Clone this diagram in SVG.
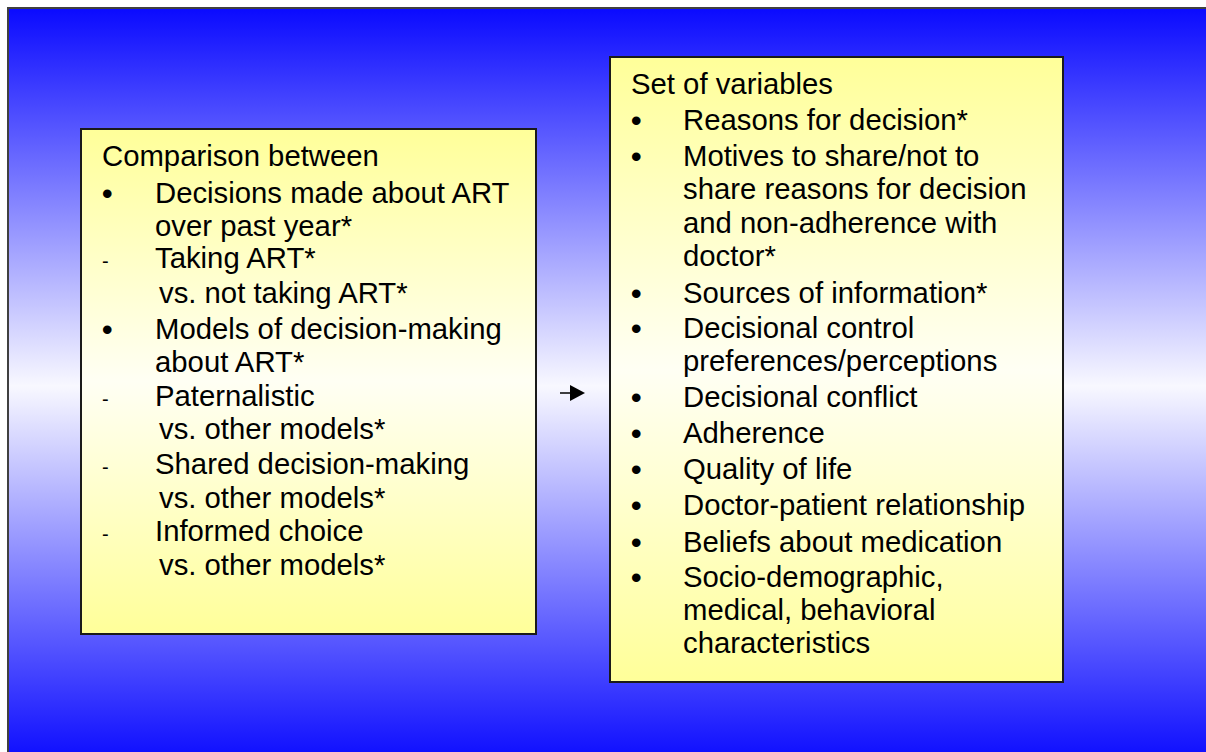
<svg xmlns="http://www.w3.org/2000/svg" width="1206" height="752" viewBox="0 0 1206 752">
  <defs>
    <linearGradient id="bg" x1="0" y1="0" x2="0" y2="1">
      <stop offset="0" stop-color="#0a0aff"/>
      <stop offset="0.5" stop-color="#f8f8ff"/>
      <stop offset="1" stop-color="#0a0aff"/>
    </linearGradient>
    <linearGradient id="box" x1="0" y1="0" x2="0" y2="1">
      <stop offset="0" stop-color="#ffff99"/>
      <stop offset="0.5" stop-color="#fffff4"/>
      <stop offset="1" stop-color="#ffff99"/>
    </linearGradient>
    <marker id="ah" markerWidth="15" markerHeight="16" refX="0" refY="8" orient="auto" markerUnits="userSpaceOnUse">
      <path d="M0,0 L15,8 L0,16 Z" fill="#000"/>
    </marker>
  </defs>
  <style>
    .box { fill: url(#box); stroke: #1a1a1a; stroke-width: 2; }
    .t { font-family: "Liberation Sans", Arial, sans-serif; font-size: 29.3px; fill: #000; }
    .b { font-family: "Liberation Sans", Arial, sans-serif; font-size: 30px; font-weight: bold; fill: #000; }
    .d { font-family: "Liberation Sans", Arial, sans-serif; font-size: 20px; fill: #000; }
  </style>
  <rect x="0" y="0" width="1206" height="752" fill="#fff"/>
  <rect x="8" y="8" width="1210" height="756" fill="url(#bg)" stroke="#404040" stroke-width="2"/>

  <g id="node-comparison">
    <rect class="box" x="81" y="129" width="455" height="505"/>
    <text class="t" x="102" y="166">Comparison between</text>
    <text class="b" x="102" y="204">•</text>
    <text class="t" x="155" y="203">Decisions made about ART</text>
    <text class="t" x="155" y="236">over past year*</text>
    <text class="d" x="102" y="268">-</text>
    <text class="t" x="155" y="268">Taking ART*</text>
    <text class="t" x="159" y="303">vs. not taking ART*</text>
    <text class="b" x="102" y="340">•</text>
    <text class="t" x="155" y="339">Models of decision-making</text>
    <text class="t" x="155" y="372">about ART*</text>
    <text class="d" x="102" y="406">-</text>
    <text class="t" x="155" y="406">Paternalistic</text>
    <text class="t" x="159" y="439">vs. other models*</text>
    <text class="d" x="102" y="474">-</text>
    <text class="t" x="155" y="474">Shared decision-making</text>
    <text class="t" x="159" y="508">vs. other models*</text>
    <text class="d" x="102" y="541">-</text>
    <text class="t" x="155" y="541">Informed choice</text>
    <text class="t" x="159" y="575">vs. other models*</text>
  </g>

  <g id="connectors">
    <line x1="560" y1="393" x2="570" y2="393" stroke="#000" stroke-width="1.5" marker-end="url(#ah)"/>
  </g>

  <g id="node-variables">
    <rect class="box" x="610" y="57" width="453" height="625"/>
    <text class="t" x="631" y="94">Set of variables</text>
    <text class="b" x="631" y="131">•</text>
    <text class="t" x="683" y="130">Reasons for decision*</text>
    <text class="b" x="631" y="167">•</text>
    <text class="t" x="683" y="166">Motives to share/not to</text>
    <text class="t" x="683" y="199">share reasons for decision</text>
    <text class="t" x="683" y="232.5">and non-adherence with</text>
    <text class="t" x="683" y="266">doctor*</text>
    <text class="b" x="631" y="303.5">•</text>
    <text class="t" x="683" y="302.5">Sources of information*</text>
    <text class="b" x="631" y="339">•</text>
    <text class="t" x="683" y="338">Decisional control</text>
    <text class="t" x="683" y="371">preferences/perceptions</text>
    <text class="b" x="631" y="408">•</text>
    <text class="t" x="683" y="407">Decisional conflict</text>
    <text class="b" x="631" y="444">•</text>
    <text class="t" x="683" y="443">Adherence</text>
    <text class="b" x="631" y="480">•</text>
    <text class="t" x="683" y="479">Quality of life</text>
    <text class="b" x="631" y="516">•</text>
    <text class="t" x="683" y="515">Doctor-patient relationship</text>
    <text class="b" x="631" y="552.5">•</text>
    <text class="t" x="683" y="551.5">Beliefs about medication</text>
    <text class="b" x="631" y="588">•</text>
    <text class="t" x="683" y="587">Socio-demographic,</text>
    <text class="t" x="683" y="620">medical, behavioral</text>
    <text class="t" x="683" y="653">characteristics</text>
  </g>
</svg>
